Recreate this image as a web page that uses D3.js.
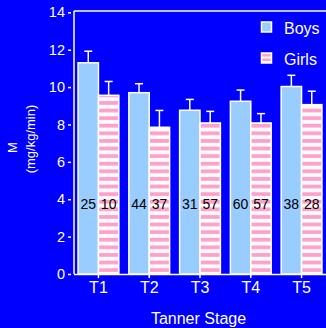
<!DOCTYPE html>
<html>
<head>
<meta charset="utf-8">
<script src="https://cdn.jsdelivr.net/npm/d3@7"></script>
<style>
  html, body { margin: 0; padding: 0; background: #0000ff; }
  svg { display: block; font-family: "Liberation Sans", Arial, sans-serif; }
</style>
</head>
<body>
<svg id="chart" width="326" height="328"></svg>
<script>
// Insulin sensitivity (M) by Tanner stage, boys vs girls
const stages = ["T1", "T2", "T3", "T4", "T5"];
const groups = ["Boys", "Girls"];
const boysMean = [11.3, 9.7, 8.76, 9.24, 10.03];
const boysSE = [0.62, 0.48, 0.58, 0.6, 0.6];
const girlsMean = [9.56, 7.85, 8.08, 8.08, 9.06];
const girlsSE = [0.74, 0.9, 0.62, 0.5, 0.72];
const boysN = [25, 44, 31, 60, 38];
const girlsN = [10, 37, 57, 57, 28];
const yTicks = [0, 2, 4, 6, 8, 10, 12, 14];

const series = {
  Boys: { mean: boysMean, se: boysSE, n: boysN },
  Girls: { mean: girlsMean, se: girlsSE, n: girlsN }
};

const svg = d3.select("#chart");
const W = 326, H = 328;
const m = { left: 74, top: 11, right: 0, bottom: 54 };
const plotBottom = H - m.bottom;

const x = d3.scaleBand().domain(stages)
  .range([m.left, W - m.right]).paddingInner(0.197).paddingOuter(0.08);
const xi = d3.scaleBand().domain(groups).range([0, x.bandwidth()]);
const y = d3.scaleLinear().domain([0, 14.07]).range([plotBottom, m.top]);

// striped fill for girls
const defs = svg.append("defs");
const pat = defs.append("pattern").attr("id", "stripes")
  .attr("patternUnits", "userSpaceOnUse").attr("width", 10).attr("height", 7.6)
  .attr("y", plotBottom);
pat.append("rect").attr("width", 10).attr("height", 7.6).attr("fill", "#ffffff");
pat.append("rect").attr("y", 1.8).attr("width", 10).attr("height", 3.8).attr("fill", "#ffa0cc");

const lp = defs.append("pattern").attr("id", "legstripes")
  .attr("patternUnits", "userSpaceOnUse").attr("width", 10).attr("height", 4.5).attr("y", 53);
lp.append("rect").attr("width", 10).attr("height", 4.5).attr("fill", "#fff");
lp.append("rect").attr("y", 1).attr("width", 10).attr("height", 2.5).attr("fill", "#ffa0cc");

const fills = { Boys: "#99ccff", Girls: "url(#stripes)" };

const g = svg.append("g");

// frame lines
g.append("line").attr("x1", m.left).attr("x2", W).attr("y1", m.top).attr("y2", m.top)
  .attr("stroke", "#fff").attr("stroke-width", 1.5);
g.append("line").attr("x1", m.left).attr("x2", m.left).attr("y1", m.top).attr("y2", plotBottom)
  .attr("stroke", "#fff").attr("stroke-width", 1.5);

// bars with error caps and group sizes
stages.forEach((s, i) => {
  groups.forEach(k => {
    const d = series[k];
    const bx = x(s) + xi(k);
    const bw = xi.bandwidth();
    g.append("rect")
      .attr("x", bx).attr("y", y(d.mean[i]))
      .attr("width", bw).attr("height", y(0) - y(d.mean[i]))
      .attr("fill", fills[k]).attr("stroke", "#fff").attr("stroke-width", 1.5);
    const cx = bx + bw / 2;
    g.append("line").attr("x1", cx).attr("x2", cx)
      .attr("y1", y(d.mean[i])).attr("y2", y(d.mean[i] + d.se[i]))
      .attr("stroke", "#fff").attr("stroke-width", 1.5);
    g.append("line").attr("x1", cx - 4).attr("x2", cx + 4)
      .attr("y1", y(d.mean[i] + d.se[i])).attr("y2", y(d.mean[i] + d.se[i]))
      .attr("stroke", "#fff").attr("stroke-width", 1.5);
    g.append("text").attr("x", cx).attr("y", y(3.5))
      .attr("text-anchor", "middle").attr("font-size", 14).attr("fill", "#000")
      .text(d.n[i]);
  });
});

// y axis
const yAxis = g.append("g").attr("transform", `translate(${m.left - 3},0)`)
  .call(d3.axisLeft(y).tickValues(yTicks).tickSize(3).tickPadding(3));
yAxis.select(".domain").remove();
yAxis.selectAll("line").attr("stroke", "#fff").attr("stroke-width", 1.5);
yAxis.selectAll("text").attr("fill", "#fff").attr("font-size", 14.5)
  .attr("font-family", "Liberation Sans, Arial, sans-serif");

// x axis
const xAxis = g.append("g").attr("transform", `translate(0,${plotBottom})`)
  .call(d3.axisBottom(x).tickSize(4).tickPadding(4));
xAxis.select(".domain").attr("d", `M${m.left},0.5H${W}`).attr("stroke", "#fff").attr("stroke-width", 1.5);
xAxis.selectAll("line").attr("stroke", "#fff").attr("stroke-width", 1.5);
xAxis.selectAll("text").attr("fill", "#fff").attr("font-size", 16)
  .attr("font-family", "Liberation Sans, Arial, sans-serif");

// axis titles
svg.append("text").attr("x", 198.5).attr("y", 324).attr("text-anchor", "middle")
  .attr("fill", "#fff").attr("font-size", 16).text("Tanner Stage");
svg.append("text").attr("transform", "translate(17,147.5) rotate(-90)")
  .attr("text-anchor", "middle").attr("fill", "#fff").attr("font-size", 13).text("M");
svg.append("text").attr("transform", "translate(35,139) rotate(-90)")
  .attr("text-anchor", "middle").attr("fill", "#fff").attr("font-size", 13).text("(mg/kg/min)");

// legend
const leg = svg.append("g");
groups.forEach((k, i) => {
  const ly = 22 + i * 31;
  leg.append("rect").attr("x", 261.5).attr("y", ly).attr("width", 10).attr("height", 10)
    .attr("fill", k === "Boys" ? "#99ccff" : "url(#legstripes)")
    .attr("stroke", "#fff").attr("stroke-width", 1.5);
  leg.append("text").attr("x", 284).attr("y", ly + 11.5).attr("fill", "#fff")
    .attr("font-size", 16).text(k);
});
</script>
</body>
</html>
